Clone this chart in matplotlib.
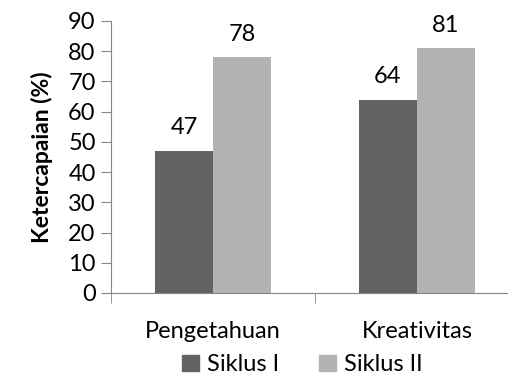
import numpy as np
import matplotlib.pyplot as plt
from matplotlib.patches import Patch

plt.rcParams['font.family'] = ['Lato', 'DejaVu Sans']

categories = ['Pengetahuan', 'Kreativitas']
siklus_1 = [47, 64]
siklus_2 = [78, 81]
series_names = ['Siklus I', 'Siklus II']
yticks = [0, 10, 20, 30, 40, 50, 60, 70, 80, 90]

dark = '#636363'
light = '#b3b3b3'
axis_col = '#868686'
fs = 17

fig = plt.figure(figsize=(5.08, 3.78), dpi=100)
ax = fig.add_axes([0.2185, 0.2249, 0.803, 0.7196])

x = np.arange(len(categories))
w = 0.285
b1 = ax.bar(x - w / 2, siklus_1, w, color=dark)
b2 = ax.bar(x + w / 2, siklus_2, w, color=light)

for bars, vals in [(b1, siklus_1), (b2, siklus_2)]:
    for rect, v in zip(bars, vals):
        ax.annotate(str(v), (rect.get_x() + rect.get_width() / 2, v),
                    xytext=(0, 9), textcoords='offset points',
                    ha='center', va='bottom', fontsize=fs)

ax.set_xlim(-0.5, 1.5)
ax.set_ylim(0, 90)
ax.set_yticks(yticks)
ax.set_xticks(x)
ax.set_xticklabels(categories, fontsize=fs)
ax.set_xticks([-0.5, 0.5, 1.5], minor=True)
ax.tick_params(axis='x', which='major', length=0, pad=20)
ax.tick_params(axis='x', which='minor', length=7, color=axis_col, direction='out')
ax.tick_params(axis='y', length=7, color=axis_col, labelsize=fs, pad=4)

for s in ['top', 'right']:
    ax.spines[s].set_visible(False)
for s in ['left', 'bottom']:
    ax.spines[s].set_color(axis_col)

ax.set_ylabel('Ketercapaian (%)', fontsize=16.5, fontweight='bold', labelpad=11)

handles = [Patch(color=dark), Patch(color=light)]
fig.legend(handles, series_names, loc='lower center', bbox_to_anchor=(0.595, -0.03),
           ncol=2, frameon=False, fontsize=fs, handlelength=0.7, handleheight=0.7,
           handletextpad=0.35, columnspacing=1.7, borderaxespad=0.2)

fig.savefig('out.png', dpi=100)
